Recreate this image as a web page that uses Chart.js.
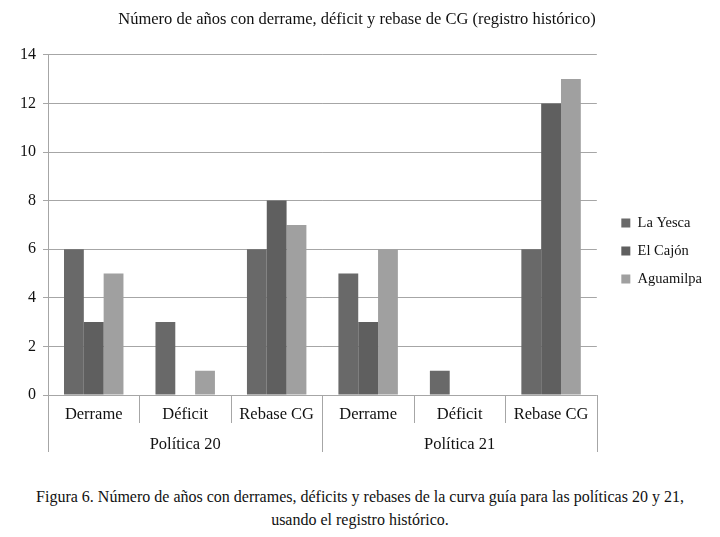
<!DOCTYPE html>
<html>
<head>
<meta charset="utf-8">
<script src="https://cdn.jsdelivr.net/npm/chart.js@4"></script>
<style>
  html, body { margin: 0; padding: 0; background: #fff; }
  #wrap { width: 720px; height: 460px; position: relative; }
  #caption {
    margin-top: 25px;
    text-align: center;
    font: 16px/23px 'Liberation Serif', 'DejaVu Serif', serif;
    color: #111;
  }
</style>
</head>
<body>
<div id="wrap"><canvas id="cgChart"></canvas></div>
<div id="caption">Figura 6. Número de años con derrames, déficits y rebases de la curva guía para las políticas 20 y 21,<br>usando el registro histórico.</div>
<script>
// Data
const categories = ["Derrame", "Déficit", "Rebase CG", "Derrame", "Déficit", "Rebase CG"];
const groups = ["Política 20", "Política 21"];
const laYesca = [6, 3, 6, 5, 1, 6];
const elCajon = [3, 0, 8, 3, 0, 12];
const aguamilpa = [5, 1, 7, 6, 0, 13];

const FONT = "'Liberation Serif', 'DejaVu Serif', serif";
const GRID = "#a6a6a6";

// Second row of the x axis (policy groups) plus the separator lines
const groupAxis = {
    id: "groupAxis",
    afterLayout(chart) {
        // legend sits a bit further right and lower than Chart.js puts it
        const lg = chart.legend;
        lg.left += 11;
        lg.right += 11;
        lg.top += 25;
        lg.bottom += 25;
    },
    afterDraw(chart) {
        const x = chart.scales.x;
        const ctx = chart.ctx;
        const top = x.top;
        ctx.save();
        ctx.strokeStyle = GRID;
        ctx.lineWidth = 1;
        for (let i = 0; i <= categories.length; i++) {
            const px = Math.round(x.getPixelForValue(i - 0.5)) + 0.5;
            const long = (i % 3 === 0);
            ctx.beginPath();
            ctx.moveTo(px, top);
            ctx.lineTo(px, long ? top + 57 : top + 28);
            ctx.stroke();
        }
        ctx.fillStyle = "#111";
        ctx.font = "16.5px " + FONT;
        ctx.textAlign = "center";
        ctx.textBaseline = "middle";
        groups.forEach((g, k) => {
            ctx.fillText(g, x.getPixelForValue(k * 3 + 1), top + 50);
        });
        ctx.restore();
    }
};

const ctx = document.getElementById("cgChart").getContext("2d");
const chart = new Chart(ctx, {
    type: "bar",
    data: {
        labels: categories,
        datasets: [
            { label: "La Yesca", data: laYesca, backgroundColor: "#696969" },
            { label: "El Cajón", data: elCajon, backgroundColor: "#5f5f5f" },
            { label: "Aguamilpa", data: aguamilpa, backgroundColor: "#a0a0a0" }
        ]
    },
    options: {
        responsive: true,
        maintainAspectRatio: false,
        animation: false,
        datasets: {
            bar: { categoryPercentage: 0.65, barPercentage: 1.0 }
        },
        layout: { padding: { left: 13, right: 19, top: 0, bottom: 8 } },
        plugins: {
            title: {
                display: true,
                text: "Número de años con derrame, déficit y rebase de CG (registro histórico)",
                color: "#111",
                font: { family: FONT, size: 16.5, weight: "normal" },
                padding: { top: 10, bottom: 25 }
            },
            legend: {
                position: "right",
                labels: {
                    color: "#111",
                    boxWidth: 9,
                    boxHeight: 9,
                    padding: 13.5,
                    font: { family: FONT, size: 14.5 }
                }
            },
            tooltip: { enabled: false }
        },
        scales: {
            x: {
                grid: { display: false, drawTicks: false },
                border: { display: false },
                ticks: {
                    color: "#111",
                    padding: 10,
                    font: { family: FONT, size: 16.5 }
                },
                afterFit(scale) { scale.height = 57; }
            },
            y: {
                min: 0,
                max: 14,
                ticks: {
                    stepSize: 2,
                    color: "#111",
                    padding: 7,
                    font: { family: FONT, size: 16 }
                },
                grid: { color: GRID, tickLength: 5 },
                border: { color: GRID }
            }
        }
    },
    plugins: [groupAxis]
});
</script>
</body>
</html>
